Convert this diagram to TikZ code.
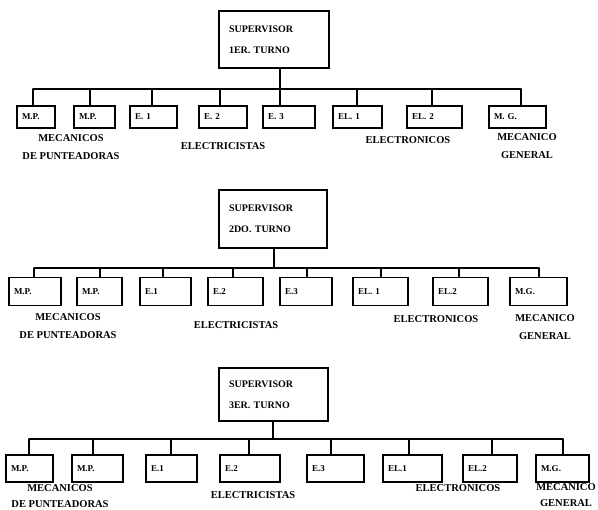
\documentclass[tikz,border=0pt]{standalone}
\usepackage{fontspec}
\setmainfont{Liberation Serif}
\newcommand\mkbox[6]{%
  \pgfmathsetmacro\kidw{#3-#2-10}%
  \node[kid, text width=\kidw pt, minimum height=#5pt] (#1) at ({(#2+#3)/2},#4) {#6};}
\newcommand\mkdrop[3]{%
  \coordinate (#1d) at (#2,#3);
  \draw[wire] (#1d) -- (#1.north -| #1d);}
\begin{document}
\begin{tikzpicture}[x=1pt,y=-1pt,
  wire/.style={line width=1.3pt, line cap=round},
  kid/.style={draw, line width=1.3pt, inner xsep=5pt, inner ysep=0pt, align=left,
    font=\fontsize{9}{10}\selectfont\bfseries},
  sup/.style={draw, line width=1.3pt, inner xsep=10pt, align=left,
    font=\fontsize{10}{21}\selectfont\bfseries},
  lab/.style={align=center, font=\fontsize{10.5}{18}\selectfont\bfseries}]
\useasboundingbox (0,0) rectangle (598,510);
\fill[white] (0,0) rectangle (598,510);

% ---------- Block 1 ----------
\node[sup, minimum width=110pt, minimum height=57pt, text width=90pt] (s1) at (274,39.5) {SUPERVISOR\\1ER. TURNO};
\mkbox{a11}{17}{55}{117}{22}{M.P.}
\mkbox{a12}{74}{115}{117}{22}{M.P.}
\mkbox{a13}{130}{177}{117}{22}{E. 1}
\mkbox{a14}{199}{247}{117}{22}{E. 2}
\mkbox{a15}{263}{315}{117}{22}{E. 3}
\mkbox{a16}{333}{382}{117}{22}{EL. 1}
\mkbox{a17}{407}{462}{117}{22}{EL. 2}
\mkbox{a18}{489}{546}{117}{22}{M. G.}
\mkdrop{a11}{33}{89}
\mkdrop{a12}{90}{89}
\mkdrop{a13}{152}{89}
\mkdrop{a14}{220}{89}
\mkdrop{a15}{280}{89}
\mkdrop{a16}{357}{89}
\mkdrop{a17}{432}{89}
\mkdrop{a18}{521}{89}
\draw[wire] (a11d) -- (a18d);
\coordinate (t1) at (280,89);
\draw[wire] (t1) -- (s1.south -| t1);
\node[lab] (l11) at (71,147) {MECANICOS\\DE PUNTEADORAS};
\node[lab] (l12) at (223,146) {ELECTRICISTAS};
\node[lab] (l13) at (408,140) {ELECTRONICOS};
\node[lab] (l14) at (527,146) {MECANICO\\GENERAL};

% ---------- Block 2 ----------
\node[sup, minimum width=108pt, minimum height=58pt, text width=88pt] (s2) at (273,219) {SUPERVISOR\\2DO. TURNO};
\mkbox{a21}{9}{61}{291.5}{28}{M.P.}
\mkbox{a22}{77}{122}{291.5}{28}{M.P.}
\mkbox{a23}{140}{191}{291.5}{28}{E.1}
\mkbox{a24}{208}{263}{291.5}{28}{E.2}
\mkbox{a25}{280}{332}{291.5}{28}{E.3}
\mkbox{a26}{353}{408}{291.5}{28}{EL. 1}
\mkbox{a27}{433}{488}{291.5}{28}{EL.2}
\mkbox{a28}{510}{567}{291.5}{28}{M.G.}
\mkdrop{a21}{34}{268}
\mkdrop{a22}{100}{268}
\mkdrop{a23}{163}{268}
\mkdrop{a24}{233}{268}
\mkdrop{a25}{307}{268}
\mkdrop{a26}{381}{268}
\mkdrop{a27}{459}{268}
\mkdrop{a28}{539}{268}
\draw[wire] (a21d) -- (a28d);
\coordinate (t2) at (274,268);
\draw[wire] (t2) -- (s2.south -| t2);
\node[lab] (l21) at (68,326) {MECANICOS\\DE PUNTEADORAS};
\node[lab] (l22) at (236,325) {ELECTRICISTAS};
\node[lab] (l23) at (436,319) {ELECTRONICOS};
\node[lab] (l24) at (545,327) {MECANICO\\GENERAL};

% ---------- Block 3 ----------
\node[sup, minimum width=109pt, minimum height=53pt, text width=89pt] (s3) at (273.5,394.5) {SUPERVISOR\\3ER. TURNO};
\mkbox{a31}{6}{53}{468.5}{27}{M.P.}
\mkbox{a32}{72}{123}{468.5}{27}{M.P.}
\mkbox{a33}{146}{197}{468.5}{27}{E.1}
\mkbox{a34}{220}{280}{468.5}{27}{E.2}
\mkbox{a35}{307}{364}{468.5}{27}{E.3}
\mkbox{a36}{383}{442}{468.5}{27}{EL.1}
\mkbox{a37}{463}{517}{468.5}{27}{EL.2}
\mkbox{a38}{536}{589}{468.5}{27}{M.G.}
\mkdrop{a31}{29}{439}
\mkdrop{a32}{93}{439}
\mkdrop{a33}{171}{439}
\mkdrop{a34}{249}{439}
\mkdrop{a35}{331}{439}
\mkdrop{a36}{409}{439}
\mkdrop{a37}{492}{439}
\mkdrop{a38}{563}{439}
\draw[wire] (a31d) -- (a38d);
\coordinate (t3) at (273,439);
\draw[wire] (t3) -- (s3.south -| t3);
\node[lab, font=\fontsize{10.5}{16}\selectfont\bfseries] (l31) at (60,496) {MECANICOS\\DE PUNTEADORAS};
\node[lab] (l32) at (253,495) {ELECTRICISTAS};
\node[lab] (l33) at (458,488) {ELECTRONICOS};
\node[lab, font=\fontsize{10.5}{16}\selectfont\bfseries] (l34) at (566,495) {MECANICO\\GENERAL};
\end{tikzpicture}
\end{document}
